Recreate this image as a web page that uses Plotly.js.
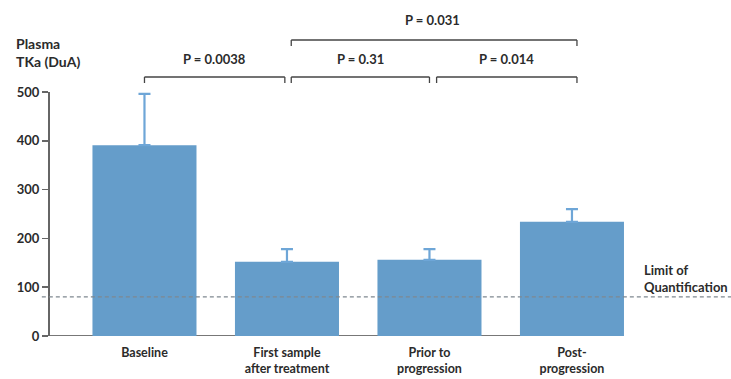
<!DOCTYPE html>
<html>
<head>
<meta charset="utf-8">
<script src="https://cdn.plot.ly/plotly-3.0.1.min.js"></script>
<style>html,body{margin:0;padding:0;background:#fff;overflow:hidden}#chart{width:731px;height:379px}</style>
</head>
<body>
<div id="chart"></div>
<script>
// Data
const categories = ["Baseline", "First sample<br>after treatment<br>initiation", "Prior to<br>progression", "Post-<br>progression"];
const meanTKa = [391, 152, 156, 234];
const errorUp = [105, 26, 22, 26];
const limitOfQuantification = 80;
const yTicks = [0, 100, 200, 300, 400, 500];
const pLabels = ["P = 0.0038", "P = 0.31", "P = 0.014", "P = 0.031"];

const FONT = "Lato, 'Open Sans', sans-serif";
const TXT = "#2b2b2b";
const W = 731, H = 379, L = 50, T = 92, B = 43;
const plotH = H - T - B;
const py = y => (H - B - y) / plotH; // pixel -> paper y

const trace = {
  type: "bar",
  x: [0, 1, 2, 3],
  y: meanTKa,
  width: 0.73,
  marker: {color: "#659dca", line: {width: 0}},
  error_y: {type: "data", symmetric: false, array: errorUp, arrayminus: errorUp.map(() => 0),
            color: "#6ea6d7", thickness: 2.2, width: 6},
  hoverinfo: "none"
};

const lineCol = "#444";
function bracket(x0, x1, ypx, drop) {
  return [
    {type: "line", xref: "x", yref: "paper", x0: x0, x1: x1, y0: py(ypx), y1: py(ypx), line: {color: lineCol, width: 1.3}},
    {type: "line", xref: "x", yref: "paper", x0: x0, x1: x0, y0: py(ypx), y1: py(ypx + drop), line: {color: lineCol, width: 1.3}},
    {type: "line", xref: "x", yref: "paper", x0: x1, x1: x1, y0: py(ypx), y1: py(ypx + drop), line: {color: lineCol, width: 1.3}}
  ];
}

const shapes = [
  // x axis line
  {type: "line", xref: "x", yref: "y", x0: -0.67, x1: 3.035, y0: 0, y1: 0, layer: "below",
   line: {color: "#777", width: 2}},
  // limit of quantification
  {type: "line", xref: "paper", yref: "y", x0: -0.012, x1: 1, y0: limitOfQuantification, y1: limitOfQuantification,
   line: {color: "#7f8890", width: 1.3, dash: "4px,3px"}},
  ...bracket(0, 0.985, 77, 6),
  ...bracket(1.03, 2.0, 77, 6),
  ...bracket(2.05, 3.035, 77, 6),
  ...bracket(1.03, 3.035, 40, 6)
];

const annFont = {family: FONT, size: 13, color: TXT, weight: "bold"};
const annotations = [
  {xref: "x", yref: "paper", x: 0.49, y: py(59), yanchor: "middle", text: pLabels[0], showarrow: false, font: annFont},
  {xref: "x", yref: "paper", x: 1.515, y: py(59), yanchor: "middle", text: pLabels[1], showarrow: false, font: annFont},
  {xref: "x", yref: "paper", x: 2.54, y: py(59), yanchor: "middle", text: pLabels[2], showarrow: false, font: annFont},
  {xref: "x", yref: "paper", x: 2.02, y: py(20), yanchor: "middle", text: pLabels[3], showarrow: false, font: annFont},
  {xref: "paper", yref: "paper", x: (14 - L) / (W - L), xanchor: "left", y: py(52), yanchor: "middle",
   text: "Plasma<br>TKa (DuA)", showarrow: false, align: "left",
   font: {family: FONT, size: 14, color: TXT, weight: "bold"}},
  {xref: "paper", yref: "paper", x: (642 - L) / (W - L), xanchor: "left", y: py(278), yanchor: "middle",
   text: "Limit of<br>Quantification", showarrow: false, align: "left",
   font: {family: FONT, size: 13, color: TXT, weight: "bold"}}
];

const layout = {
  width: W, height: H,
  margin: {l: L, r: 0, t: T, b: B, pad: 0},
  paper_bgcolor: "#fff", plot_bgcolor: "#fff",
  showlegend: false,
  font: {family: FONT, color: TXT},
  xaxis: {
    range: [-0.663, 4.116], tickmode: "array", tickvals: [0, 1, 2, 3], ticktext: categories,
    showgrid: false, zeroline: false, showline: false, ticks: "", ticklabelstandoff: 7,
    tickfont: {family: FONT, size: 12.5, color: TXT, weight: "bold"}, fixedrange: true
  },
  yaxis: {
    range: [0, 500], tickmode: "array", tickvals: yTicks, ticktext: yTicks.map(String),
    showgrid: false, zeroline: false, showline: true, linecolor: "#666", linewidth: 2,
    ticks: "outside", ticklen: 6, tickwidth: 1.5, tickcolor: "#666",
    tickfont: {family: FONT, size: 13, color: TXT, weight: "bold"}, fixedrange: true
  },
  shapes: shapes,
  annotations: annotations
};

Plotly.newPlot("chart", [trace], layout, {displayModeBar: false, staticPlot: true});
</script>
</body>
</html>
